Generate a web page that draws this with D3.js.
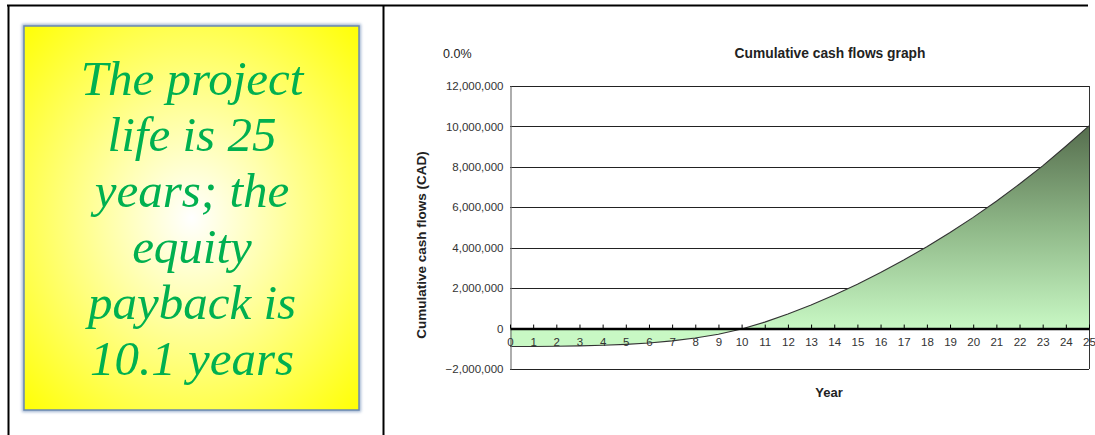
<!DOCTYPE html>
<html>
<head>
<meta charset="utf-8">
<script src="https://cdn.jsdelivr.net/npm/d3@7"></script>
<style>
  html, body { margin: 0; padding: 0; background: #fff; }
  svg { display: block; }
</style>
</head>
<body>
<svg id="chart" width="1095" height="435"></svg>
<script>
// ---------------- data ----------------
const years = [0, 1, 2, 3, 4, 5, 6, 7, 8, 9, 10, 11, 12, 13, 14, 15, 16, 17, 18, 19, 20, 21, 22, 23, 24, 25];
const cumulativeCashFlow = [
  -890000, -885000, -875000, -855000, -825000, -780000, -710000, -610000, -470000, -280000,
  -20000, 320000, 720000, 1170000, 1660000, 2190000, 2770000, 3390000, 4050000, 4750000,
  5500000, 6300000, 7150000, 8050000, 9020000, 10030000
];
const yTickValues = [-2000000, 0, 2000000, 4000000, 6000000, 8000000, 10000000, 12000000];
const noteLines = ["The project", "life is 25", "years; the", "equity", "payback is", "10.1 years"];
const chartTitle = "Cumulative cash flows graph";
const irrLabel = "0.0%";
const yAxisTitle = "Cumulative cash flows (CAD)";
const xAxisTitle = "Year";

// ---------------- drawing ----------------
const svg = d3.select("#chart");
const defs = svg.append("defs");

// table borders
const table = svg.append("g").attr("stroke", "#000").attr("stroke-width", 2);
table.append("line").attr("x1", 7).attr("x2", 1088).attr("y1", 5.5).attr("y2", 5.5);
table.append("line").attr("x1", 8.5).attr("x2", 8.5).attr("y1", 5).attr("y2", 435);
table.append("line").attr("x1", 383.5).attr("x2", 383.5).attr("y1", 5).attr("y2", 435);

// yellow note box
const rg = defs.append("radialGradient").attr("id", "yellowGlow")
  .attr("cx", 0.5).attr("cy", 0.5).attr("r", 0.72);
rg.append("stop").attr("offset", 0).attr("stop-color", "#ffffff");
rg.append("stop").attr("offset", 0.35).attr("stop-color", "#ffffa8");
rg.append("stop").attr("offset", 1).attr("stop-color", "#ffff00");

const shadow = defs.append("filter").attr("id", "soft").attr("x", -0.05).attr("y", -0.05).attr("width", 1.1).attr("height", 1.1);
shadow.append("feGaussianBlur").attr("stdDeviation", 1.5);

const box = { x: 24, y: 26, w: 335, h: 384 };
svg.append("rect").attr("x", box.x).attr("y", box.y).attr("width", box.w).attr("height", box.h)
  .attr("fill", "none").attr("stroke", "#9fb4d0").attr("stroke-width", 4).attr("filter", "url(#soft)");
svg.append("rect").attr("x", box.x).attr("y", box.y).attr("width", box.w).attr("height", box.h)
  .attr("fill", "url(#yellowGlow)").attr("stroke", "#6a88b0").attr("stroke-width", 1.5);

svg.append("g").selectAll("text").data(noteLines).join("text")
  .attr("x", 192)
  .attr("y", (d, i) => 95 + i * 56)
  .attr("text-anchor", "middle")
  .attr("font-family", "'Liberation Serif', 'DejaVu Serif', serif")
  .attr("font-style", "italic")
  .attr("font-size", 49)
  .attr("fill", "#00b050")
  .text(d => d);

// chart scales
const x = d3.scaleLinear().domain([0, 25]).range([510, 1089]);
const y = d3.scaleLinear().domain([-2000000, 12000000]).range([369, 86]);

// gradient for area
const lg = defs.append("linearGradient").attr("id", "areaFill")
  .attr("gradientUnits", "userSpaceOnUse")
  .attr("x1", 0).attr("x2", 0).attr("y1", y(10000000)).attr("y2", y(0));
lg.append("stop").attr("offset", 0).attr("stop-color", "#566e4e");
lg.append("stop").attr("offset", 0.5).attr("stop-color", "#8fb888");
lg.append("stop").attr("offset", 1).attr("stop-color", "#c8f8c4");

// gridlines
svg.append("g").selectAll("line").data(yTickValues.filter(v => v !== 0)).join("line")
  .attr("x1", x(0)).attr("x2", x(25))
  .attr("y1", d => Math.round(y(d)) + 0.5).attr("y2", d => Math.round(y(d)) + 0.5)
  .attr("stroke", "#222").attr("stroke-width", 1);

// area
const pts = years.map((yr, i) => ({ yr, v: cumulativeCashFlow[i] }));
const area = d3.area().x(d => x(d.yr)).y0(y(0)).y1(d => y(d.v));
svg.append("path").datum(pts).attr("d", area).attr("fill", "url(#areaFill)");
const line = d3.line().x(d => x(d.yr)).y(d => y(d.v));
svg.append("path").datum(pts).attr("d", line).attr("fill", "none").attr("stroke", "#333").attr("stroke-width", 1.1);

// plot border right
svg.append("line").attr("x1", Math.round(x(25)) + 0.5).attr("x2", Math.round(x(25)) + 0.5)
  .attr("y1", y(12000000)).attr("y2", y(-2000000)).attr("stroke", "#333").attr("stroke-width", 1);

// y axis
const yAxis = d3.axisLeft(y).tickValues(yTickValues).tickSize(0).tickPadding(7)
  .tickFormat(d3.format(","));
const yg = svg.append("g").attr("transform", `translate(${Math.round(x(0)) + 0.5},0)`).call(yAxis);
yg.select(".domain").attr("stroke", "#777").attr("stroke-width", 1.2);
yg.selectAll("text").attr("font-family", "'Liberation Sans', Arial, sans-serif")
  .attr("font-size", 11.5).attr("fill", "#333");

// x axis on zero line
const xAxis = d3.axisBottom(x).tickValues(years).tickSizeInner(-4).tickSizeOuter(0).tickPadding(9)
  .tickFormat(d3.format("d"));
const xg = svg.append("g").attr("transform", `translate(0,${y(0)})`).call(xAxis);
xg.select(".domain").attr("stroke", "#000").attr("stroke-width", 2.5);
xg.selectAll(".tick line").attr("stroke", "#000").attr("stroke-width", 1);
xg.selectAll("text").attr("font-family", "'Liberation Sans', Arial, sans-serif")
  .attr("font-size", 11.5).attr("fill", "#333");

// titles
svg.append("text").attr("x", 830).attr("y", 58).attr("text-anchor", "middle")
  .attr("font-family", "'Liberation Sans', Arial, sans-serif").attr("font-weight", "bold")
  .attr("font-size", 13.8).attr("fill", "#222").text(chartTitle);
svg.append("text").attr("x", 443).attr("y", 58)
  .attr("font-family", "'Liberation Sans', Arial, sans-serif")
  .attr("font-size", 12.5).attr("fill", "#222").text(irrLabel);
svg.append("text").attr("transform", "translate(426,245) rotate(-90)").attr("text-anchor", "middle")
  .attr("font-family", "'Liberation Sans', Arial, sans-serif").attr("font-weight", "bold")
  .attr("font-size", 13.5).attr("fill", "#222").text(yAxisTitle);
svg.append("text").attr("x", 829).attr("y", 397).attr("text-anchor", "middle")
  .attr("font-family", "'Liberation Sans', Arial, sans-serif").attr("font-weight", "bold")
  .attr("font-size", 13).attr("fill", "#222").text(xAxisTitle);
</script>
</body>
</html>
